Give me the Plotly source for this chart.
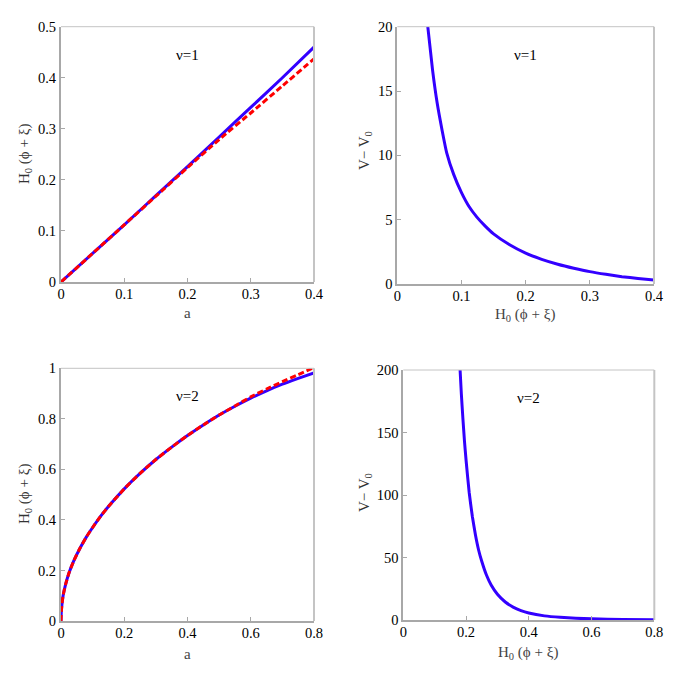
import plotly.graph_objects as go

# ---------------- data ----------------
# Top-left (nu=1): H0(phi+xi) vs a
a_tl = [0, 0.05, 0.1, 0.15, 0.2, 0.25, 0.3, 0.35, 0.4]
h_tl_blue = [0, 0.056, 0.112, 0.169, 0.226, 0.284, 0.342, 0.400, 0.460]
h_tl_red = [0, 0.056, 0.112, 0.168, 0.224, 0.279, 0.331, 0.384, 0.437]

# Top-right (nu=1): V - V0 vs H0(phi+xi)
h_tr = [0.0475, 0.055, 0.062, 0.07, 0.077, 0.088, 0.1, 0.112, 0.124, 0.137, 0.15,
        0.175, 0.2, 0.225, 0.25, 0.275, 0.3, 0.325, 0.35, 0.375, 0.4]
v_tr = [20, 16.6, 14.1, 11.9, 10.2, 8.5, 7.1, 6.0, 5.2, 4.5, 3.9,
        3.05, 2.4, 1.92, 1.54, 1.23, 0.96, 0.75, 0.57, 0.43, 0.31]

# Bottom-left (nu=2): H0(phi+xi) vs a
a_bl = [0, 0.001, 0.003, 0.007, 0.015, 0.025, 0.04, 0.06, 0.08, 0.1, 0.125, 0.15, 0.2,
        0.25, 0.3, 0.35, 0.4, 0.45, 0.5, 0.55, 0.6, 0.65, 0.7, 0.75, 0.8]
h_bl_blue = [0, 0.037, 0.066, 0.103, 0.147, 0.189, 0.237, 0.288, 0.332, 0.370, 0.414, 0.453, 0.523,
             0.584, 0.639, 0.688, 0.734, 0.776, 0.815, 0.850, 0.882, 0.911, 0.937, 0.960, 0.982]
h_bl_red = [0, 0.037, 0.066, 0.103, 0.147, 0.189, 0.237, 0.288, 0.332, 0.370, 0.414, 0.453, 0.523,
            0.584, 0.639, 0.688, 0.734, 0.776, 0.815, 0.851, 0.887, 0.918, 0.947, 0.975, 1.003]

# Bottom-right (nu=2): V - V0 vs H0(phi+xi)
h_br = [0.181, 0.185, 0.19, 0.195, 0.2, 0.21, 0.22, 0.23, 0.24, 0.25, 0.265, 0.28, 0.3,
        0.325, 0.35, 0.375, 0.4, 0.45, 0.5, 0.55, 0.6, 0.7, 0.8]
v_br = [200, 181, 161, 143, 128, 102, 83, 68, 56, 47, 36, 28, 20.6,
        14.4, 10.3, 7.5, 5.6, 3.3, 2.1, 1.35, 0.9, 0.45, 0.25]

# tick labels
tl_x_ticks = [0, 0.1, 0.2, 0.3, 0.4]
tl_x_text = ["0", "0.1", "0.2", "0.3", "0.4"]
tl_y_ticks = [0, 0.1, 0.2, 0.3, 0.4, 0.5]
tl_y_text = ["0", "0.1", "0.2", "0.3", "0.4", "0.5"]
tr_y_ticks = [0, 5, 10, 15, 20]
tr_y_text = ["0", "5", "10", "15", "20"]
bl_x_ticks = [0, 0.2, 0.4, 0.6, 0.8]
bl_x_text = ["0", "0.2", "0.4", "0.6", "0.8"]
bl_y_ticks = [0, 0.2, 0.4, 0.6, 0.8, 1.0]
bl_y_text = ["0", "0.2", "0.4", "0.6", "0.8", "1"]
br_y_ticks = [0, 50, 100, 150, 200]
br_y_text = ["0", "50", "100", "150", "200"]

panel_labels = ["ν=1", "ν=1", "ν=2", "ν=2"]
x_titles = ["a", "H<sub>0</sub> (ϕ + ξ)", "a", "H<sub>0</sub> (ϕ + ξ)"]
y_titles = ["H<sub>0</sub> (ϕ + ξ)", "V− V<sub>0</sub>", "H<sub>0</sub> (ϕ + ξ)", "V− V<sub>0</sub>"]

# ---------------- style ----------------
W = H = 681
BLUE = "#3300ff"
RED = "#ff0000"
FONT = "Liberation Serif, Times New Roman, serif"

# panel pixel boxes: (left, right, top, bottom)
boxes = [
    (61, 314, 26.7, 282),
    (397.3, 654, 26.7, 284),
    (61, 314, 368.3, 621),
    (403.3, 654.3, 370, 620),
]
# axis-title pixel centres: x-title (cx, cy), y-title (cx, cy)
xtitle_pos = [(187, 313), (525, 315), (187, 654), (528, 653)]
ytitle_pos = [(25, 154), (365, 150), (25, 494), (365, 492)]

fig = go.Figure()

def add_line(x, y, color, axis_id, dash=None):
    xa = "x" if axis_id == 1 else f"x{axis_id}"
    ya = "y" if axis_id == 1 else f"y{axis_id}"
    fig.add_trace(go.Scatter(
        x=x, y=y, mode="lines", xaxis=xa, yaxis=ya,
        line=dict(color=color, width=3, dash=dash, shape="spline", smoothing=0.5),
        hoverinfo="skip", showlegend=False, cliponaxis=True,
    ))

add_line(a_tl, h_tl_blue, BLUE, 1)
add_line(a_tl, h_tl_red, RED, 1, dash="6px,3px")
add_line(h_tr, v_tr, BLUE, 2)
add_line(a_bl, h_bl_blue, BLUE, 3)
add_line(a_bl, h_bl_red, RED, 3, dash="6px,3px")
add_line(h_br, v_br, BLUE, 4)

ranges_x = [[0, 0.4], [0, 0.4], [0, 0.8], [0, 0.8]]
ranges_y = [[0, 0.5], [0, 20], [0, 1], [0, 200]]
xt = [(tl_x_ticks, tl_x_text), (tl_x_ticks, tl_x_text), (bl_x_ticks, bl_x_text), (bl_x_ticks, bl_x_text)]
yt = [(tl_y_ticks, tl_y_text), (tr_y_ticks, tr_y_text), (bl_y_ticks, bl_y_text), (br_y_ticks, br_y_text)]

layout = dict(
    width=W, height=H,
    margin=dict(l=0, r=0, t=0, b=0, pad=0, autoexpand=False),
    paper_bgcolor="white", plot_bgcolor="white",
    font=dict(family=FONT, color="black", size=15),
    showlegend=False,
)
shapes = []
annotations = []
for i, (l, r, t, b) in enumerate(boxes):
    k = i + 1
    xn = "xaxis" if k == 1 else f"xaxis{k}"
    yn = "yaxis" if k == 1 else f"yaxis{k}"
    xa = "x" if k == 1 else f"x{k}"
    ya = "y" if k == 1 else f"y{k}"
    common = dict(
        showgrid=False, zeroline=False, showline=True, linecolor="#a8a8a8", linewidth=2,
        ticks="inside", ticklen=4, tickcolor="#a8a8a8", tickwidth=1,
        tickfont=dict(family=FONT, size=14.5, color="black"),
        fixedrange=True, automargin=False,
    )
    layout[xn] = dict(common, domain=[l / W, r / W], anchor=ya, range=ranges_x[i],
                      tickvals=xt[i][0], ticktext=xt[i][1], ticklabelstandoff=-2)
    layout[yn] = dict(common, domain=[1 - b / H, 1 - t / H], anchor=xa, range=ranges_y[i],
                      tickvals=yt[i][0], ticktext=yt[i][1])
    # light top / right frame
    shapes.append(dict(type="line", xref=f"{xa} domain", yref=f"{ya} domain",
                       x0=0, x1=1, y0=1, y1=1, line=dict(color="#c4c4c4", width=1)))
    shapes.append(dict(type="line", xref=f"{xa} domain", yref=f"{ya} domain",
                       x0=1, x1=1, y0=0, y1=1, line=dict(color="#c4c4c4", width=2)))
    annotations.append(dict(text=panel_labels[i], xref=f"{xa} domain", yref=f"{ya} domain",
                            x=0.5, y=0.93, showarrow=False,
                            font=dict(family=FONT, size=15, color="black")))
    cx, cy = xtitle_pos[i]
    annotations.append(dict(text=x_titles[i], xref="paper", yref="paper",
                            x=cx / W, y=1 - cy / H, xanchor="center", yanchor="middle",
                            showarrow=False, font=dict(family=FONT, size=15, color="#444")))
    cx, cy = ytitle_pos[i]
    annotations.append(dict(text=y_titles[i], xref="paper", yref="paper",
                            x=cx / W, y=1 - cy / H, xanchor="center", yanchor="middle",
                            textangle=-90, showarrow=False,
                            font=dict(family=FONT, size=15, color="#333")))

layout["shapes"] = shapes
layout["annotations"] = annotations
fig.update_layout(**layout)

fig.write_html("out.html", config={"displayModeBar": False},
               post_script="document.body.style.margin='0';document.body.style.padding='0';")
